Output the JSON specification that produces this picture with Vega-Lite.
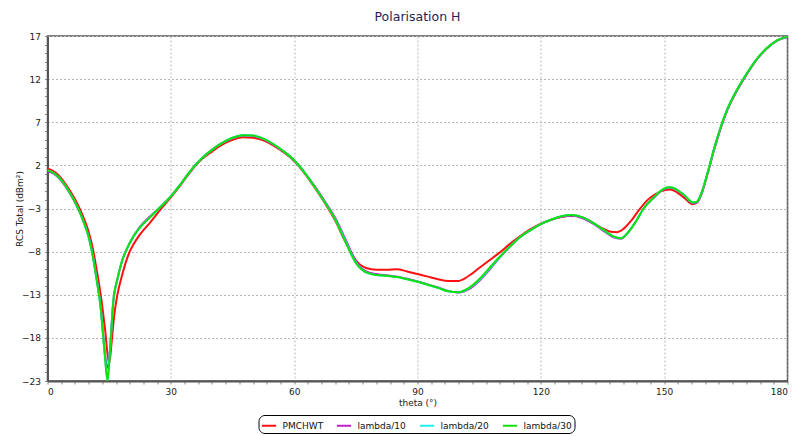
{
  "$schema": "https://vega.github.io/schema/vega-lite/v6.json",
  "width": 740,
  "height": 345,
  "autosize": {"type": "none"},
  "padding": {"left": 47.5, "top": 36, "right": 10.5, "bottom": 55},
  "background": "white",
  "title": {"text": "Polarisation H", "fontSize": 12.5, "font": "DejaVu Sans", "fontWeight": "normal", "color": "#1e1e5a", "anchor": "middle", "offset": 9},
  "config": {
    "view": {"stroke": "#555", "strokeWidth": 1.5},
    "font": "DejaVu Sans"
  },
  "datasets": {
    "curves": [
      {"s":"PMCHWT","t":0,"v":1.6},{"s":"PMCHWT","t":1,"v":1.45},{"s":"PMCHWT","t":2,"v":1.15},{"s":"PMCHWT","t":3,"v":0.7},{"s":"PMCHWT","t":4,"v":0.1},{"s":"PMCHWT","t":5,"v":-0.6},{"s":"PMCHWT","t":6,"v":-1.35},{"s":"PMCHWT","t":7,"v":-2.2},{"s":"PMCHWT","t":8,"v":-3.2},{"s":"PMCHWT","t":9,"v":-4.35},{"s":"PMCHWT","t":10,"v":-5.7},{"s":"PMCHWT","t":11,"v":-7.6},{"s":"PMCHWT","t":12,"v":-10.2},{"s":"PMCHWT","t":13,"v":-13.2},{"s":"PMCHWT","t":14,"v":-17},{"s":"PMCHWT","t":15,"v":-21},{"s":"PMCHWT","t":15.6,"v":-18.5},{"s":"PMCHWT","t":16.2,"v":-15.5},{"s":"PMCHWT","t":17,"v":-13},{"s":"PMCHWT","t":18,"v":-11},{"s":"PMCHWT","t":19,"v":-9.3},{"s":"PMCHWT","t":20,"v":-8.0},{"s":"PMCHWT","t":21,"v":-7.1},{"s":"PMCHWT","t":22.5,"v":-6.0},{"s":"PMCHWT","t":25,"v":-4.6},{"s":"PMCHWT","t":27.5,"v":-3.1},{"s":"PMCHWT","t":30,"v":-1.7},{"s":"PMCHWT","t":32.5,"v":-0.2},{"s":"PMCHWT","t":35,"v":1.4},{"s":"PMCHWT","t":37.5,"v":2.7},{"s":"PMCHWT","t":40,"v":3.6},{"s":"PMCHWT","t":42.5,"v":4.4},{"s":"PMCHWT","t":45,"v":4.95},{"s":"PMCHWT","t":47.5,"v":5.25},{"s":"PMCHWT","t":50,"v":5.2},{"s":"PMCHWT","t":52.5,"v":4.9},{"s":"PMCHWT","t":55,"v":4.3},{"s":"PMCHWT","t":57.5,"v":3.5},{"s":"PMCHWT","t":60,"v":2.5},{"s":"PMCHWT","t":62.5,"v":1.1},{"s":"PMCHWT","t":65,"v":-0.6},{"s":"PMCHWT","t":67.5,"v":-2.4},{"s":"PMCHWT","t":70,"v":-4.4},{"s":"PMCHWT","t":72.5,"v":-6.9},{"s":"PMCHWT","t":75,"v":-9.0},{"s":"PMCHWT","t":77.5,"v":-9.9},{"s":"PMCHWT","t":80,"v":-10.1},{"s":"PMCHWT","t":82.5,"v":-10.1},{"s":"PMCHWT","t":85,"v":-10.05},{"s":"PMCHWT","t":87.5,"v":-10.3},{"s":"PMCHWT","t":90,"v":-10.6},{"s":"PMCHWT","t":92.5,"v":-10.9},{"s":"PMCHWT","t":95,"v":-11.2},{"s":"PMCHWT","t":97.5,"v":-11.4},{"s":"PMCHWT","t":100,"v":-11.4},{"s":"PMCHWT","t":102.5,"v":-10.8},{"s":"PMCHWT","t":105,"v":-9.9},{"s":"PMCHWT","t":107.5,"v":-9.0},{"s":"PMCHWT","t":110,"v":-8.1},{"s":"PMCHWT","t":112.5,"v":-7.1},{"s":"PMCHWT","t":115,"v":-6.2},{"s":"PMCHWT","t":117.5,"v":-5.4},{"s":"PMCHWT","t":120,"v":-4.75},{"s":"PMCHWT","t":122.5,"v":-4.3},{"s":"PMCHWT","t":125,"v":-4.0},{"s":"PMCHWT","t":127.5,"v":-3.85},{"s":"PMCHWT","t":130,"v":-4.0},{"s":"PMCHWT","t":132.5,"v":-4.6},{"s":"PMCHWT","t":135,"v":-5.3},{"s":"PMCHWT","t":137,"v":-5.7},{"s":"PMCHWT","t":138.5,"v":-5.75},{"s":"PMCHWT","t":140,"v":-5.4},{"s":"PMCHWT","t":142,"v":-4.4},{"s":"PMCHWT","t":144,"v":-3.1},{"s":"PMCHWT","t":146,"v":-2.0},{"s":"PMCHWT","t":148,"v":-1.3},{"s":"PMCHWT","t":150,"v":-0.9},{"s":"PMCHWT","t":151.5,"v":-0.8},{"s":"PMCHWT","t":153,"v":-1.1},{"s":"PMCHWT","t":155,"v":-1.8},{"s":"PMCHWT","t":156.8,"v":-2.5},{"s":"PMCHWT","t":158,"v":-2.3},{"s":"PMCHWT","t":159,"v":-1.4},{"s":"PMCHWT","t":160,"v":0.1},{"s":"PMCHWT","t":161,"v":1.8},{"s":"PMCHWT","t":162,"v":3.6},{"s":"PMCHWT","t":163,"v":5.2},{"s":"PMCHWT","t":164,"v":6.7},{"s":"PMCHWT","t":165,"v":8.0},{"s":"PMCHWT","t":166,"v":9.1},{"s":"PMCHWT","t":167.5,"v":10.5},{"s":"PMCHWT","t":170,"v":12.5},{"s":"PMCHWT","t":172.5,"v":14.3},{"s":"PMCHWT","t":175,"v":15.6},{"s":"PMCHWT","t":177.5,"v":16.5},{"s":"PMCHWT","t":180,"v":16.9},

      {"s":"lambda/10","t":0,"v":1.3},{"s":"lambda/10","t":1,"v":1.15},{"s":"lambda/10","t":2,"v":0.85},{"s":"lambda/10","t":3,"v":0.4},{"s":"lambda/10","t":4,"v":-0.2},{"s":"lambda/10","t":5,"v":-0.9},{"s":"lambda/10","t":6,"v":-1.7},{"s":"lambda/10","t":7,"v":-2.6},{"s":"lambda/10","t":8,"v":-3.6},{"s":"lambda/10","t":9,"v":-4.8},{"s":"lambda/10","t":10,"v":-6.2},{"s":"lambda/10","t":11,"v":-8.4},{"s":"lambda/10","t":12,"v":-11.3},{"s":"lambda/10","t":13,"v":-14.7},{"s":"lambda/10","t":13.5,"v":-17.4},{"s":"lambda/10","t":14,"v":-19.9},{"s":"lambda/10","t":14.7,"v":-21.5},{"s":"lambda/10","t":15.2,"v":-19.3},{"s":"lambda/10","t":16,"v":-13.8},{"s":"lambda/10","t":17,"v":-11.2},{"s":"lambda/10","t":18,"v":-9.3},{"s":"lambda/10","t":20,"v":-7.0},{"s":"lambda/10","t":22.5,"v":-5.1},{"s":"lambda/10","t":25,"v":-3.9},{"s":"lambda/10","t":27.5,"v":-2.8},{"s":"lambda/10","t":30,"v":-1.6},{"s":"lambda/10","t":32.5,"v":-0.1},{"s":"lambda/10","t":35,"v":1.5},{"s":"lambda/10","t":37.5,"v":2.8},{"s":"lambda/10","t":40,"v":3.8},{"s":"lambda/10","t":42.5,"v":4.6},{"s":"lambda/10","t":45,"v":5.15},{"s":"lambda/10","t":47.5,"v":5.45},{"s":"lambda/10","t":50,"v":5.4},{"s":"lambda/10","t":52.5,"v":5.05},{"s":"lambda/10","t":55,"v":4.4},{"s":"lambda/10","t":57.5,"v":3.6},{"s":"lambda/10","t":60,"v":2.6},{"s":"lambda/10","t":62.5,"v":1.2},{"s":"lambda/10","t":65,"v":-0.4},{"s":"lambda/10","t":67.5,"v":-2.2},{"s":"lambda/10","t":70,"v":-4.1},{"s":"lambda/10","t":72.5,"v":-6.6},{"s":"lambda/10","t":75,"v":-9.1},{"s":"lambda/10","t":77.5,"v":-10.3},{"s":"lambda/10","t":80,"v":-10.6},{"s":"lambda/10","t":82.5,"v":-10.75},{"s":"lambda/10","t":85,"v":-10.9},{"s":"lambda/10","t":87.5,"v":-11.15},{"s":"lambda/10","t":90,"v":-11.45},{"s":"lambda/10","t":92.5,"v":-11.8},{"s":"lambda/10","t":95,"v":-12.15},{"s":"lambda/10","t":97.5,"v":-12.55},{"s":"lambda/10","t":100,"v":-12.75},{"s":"lambda/10","t":102.5,"v":-12.35},{"s":"lambda/10","t":105,"v":-11.4},{"s":"lambda/10","t":107.5,"v":-10.1},{"s":"lambda/10","t":110,"v":-8.7},{"s":"lambda/10","t":112.5,"v":-7.4},{"s":"lambda/10","t":115,"v":-6.3},{"s":"lambda/10","t":117.5,"v":-5.5},{"s":"lambda/10","t":120,"v":-4.8},{"s":"lambda/10","t":122.5,"v":-4.3},{"s":"lambda/10","t":125,"v":-3.95},{"s":"lambda/10","t":127.5,"v":-3.85},{"s":"lambda/10","t":130,"v":-4.1},{"s":"lambda/10","t":132.5,"v":-4.7},{"s":"lambda/10","t":135,"v":-5.5},{"s":"lambda/10","t":137.5,"v":-6.3},{"s":"lambda/10","t":139.5,"v":-6.5},{"s":"lambda/10","t":141,"v":-5.9},{"s":"lambda/10","t":143,"v":-4.6},{"s":"lambda/10","t":145,"v":-3.0},{"s":"lambda/10","t":147.5,"v":-1.75},{"s":"lambda/10","t":150,"v":-0.75},{"s":"lambda/10","t":151.5,"v":-0.6},{"s":"lambda/10","t":153,"v":-0.85},{"s":"lambda/10","t":155,"v":-1.55},{"s":"lambda/10","t":157,"v":-2.4},{"s":"lambda/10","t":158,"v":-2.3},{"s":"lambda/10","t":159,"v":-1.4},{"s":"lambda/10","t":160,"v":0.1},{"s":"lambda/10","t":161,"v":1.8},{"s":"lambda/10","t":162,"v":3.6},{"s":"lambda/10","t":163,"v":5.2},{"s":"lambda/10","t":164,"v":6.7},{"s":"lambda/10","t":165,"v":8.0},{"s":"lambda/10","t":166,"v":9.1},{"s":"lambda/10","t":167.5,"v":10.5},{"s":"lambda/10","t":170,"v":12.5},{"s":"lambda/10","t":172.5,"v":14.25},{"s":"lambda/10","t":175,"v":15.55},{"s":"lambda/10","t":177.5,"v":16.45},{"s":"lambda/10","t":180,"v":16.85},

      {"s":"lambda/20","t":0,"v":1.4},{"s":"lambda/20","t":1,"v":1.25},{"s":"lambda/20","t":2,"v":0.95},{"s":"lambda/20","t":3,"v":0.5},{"s":"lambda/20","t":4,"v":-0.1},{"s":"lambda/20","t":5,"v":-0.85},{"s":"lambda/20","t":6,"v":-1.65},{"s":"lambda/20","t":7,"v":-2.55},{"s":"lambda/20","t":8,"v":-3.6},{"s":"lambda/20","t":9,"v":-4.85},{"s":"lambda/20","t":10,"v":-6.3},{"s":"lambda/20","t":11,"v":-8.5},{"s":"lambda/20","t":12,"v":-11.4},{"s":"lambda/20","t":13,"v":-14.8},{"s":"lambda/20","t":13.5,"v":-17.6},{"s":"lambda/20","t":14,"v":-20.3},{"s":"lambda/20","t":14.6,"v":-22.8},{"s":"lambda/20","t":15.2,"v":-19.5},{"s":"lambda/20","t":16,"v":-13.8},{"s":"lambda/20","t":17,"v":-11.2},{"s":"lambda/20","t":18,"v":-9.3},{"s":"lambda/20","t":20,"v":-7.0},{"s":"lambda/20","t":22.5,"v":-5.2},{"s":"lambda/20","t":25,"v":-4.0},{"s":"lambda/20","t":27.5,"v":-2.8},{"s":"lambda/20","t":30,"v":-1.6},{"s":"lambda/20","t":32.5,"v":-0.1},{"s":"lambda/20","t":35,"v":1.5},{"s":"lambda/20","t":37.5,"v":2.8},{"s":"lambda/20","t":40,"v":3.8},{"s":"lambda/20","t":42.5,"v":4.6},{"s":"lambda/20","t":45,"v":5.2},{"s":"lambda/20","t":47.5,"v":5.5},{"s":"lambda/20","t":50,"v":5.45},{"s":"lambda/20","t":52.5,"v":5.1},{"s":"lambda/20","t":55,"v":4.45},{"s":"lambda/20","t":57.5,"v":3.6},{"s":"lambda/20","t":60,"v":2.6},{"s":"lambda/20","t":62.5,"v":1.2},{"s":"lambda/20","t":65,"v":-0.5},{"s":"lambda/20","t":67.5,"v":-2.3},{"s":"lambda/20","t":70,"v":-4.25},{"s":"lambda/20","t":72.5,"v":-6.8},{"s":"lambda/20","t":75,"v":-9.25},{"s":"lambda/20","t":77.5,"v":-10.4},{"s":"lambda/20","t":80,"v":-10.7},{"s":"lambda/20","t":82.5,"v":-10.8},{"s":"lambda/20","t":85,"v":-10.95},{"s":"lambda/20","t":87.5,"v":-11.2},{"s":"lambda/20","t":90,"v":-11.5},{"s":"lambda/20","t":92.5,"v":-11.85},{"s":"lambda/20","t":95,"v":-12.2},{"s":"lambda/20","t":97.5,"v":-12.6},{"s":"lambda/20","t":100,"v":-12.7},{"s":"lambda/20","t":102.5,"v":-12.25},{"s":"lambda/20","t":105,"v":-11.3},{"s":"lambda/20","t":107.5,"v":-10.0},{"s":"lambda/20","t":110,"v":-8.65},{"s":"lambda/20","t":112.5,"v":-7.4},{"s":"lambda/20","t":115,"v":-6.3},{"s":"lambda/20","t":117.5,"v":-5.5},{"s":"lambda/20","t":120,"v":-4.8},{"s":"lambda/20","t":122.5,"v":-4.3},{"s":"lambda/20","t":125,"v":-3.9},{"s":"lambda/20","t":127.5,"v":-3.75},{"s":"lambda/20","t":130,"v":-4.0},{"s":"lambda/20","t":132.5,"v":-4.6},{"s":"lambda/20","t":135,"v":-5.4},{"s":"lambda/20","t":137.5,"v":-6.2},{"s":"lambda/20","t":139.5,"v":-6.45},{"s":"lambda/20","t":141,"v":-5.9},{"s":"lambda/20","t":143,"v":-4.6},{"s":"lambda/20","t":145,"v":-3.0},{"s":"lambda/20","t":147.5,"v":-1.7},{"s":"lambda/20","t":150,"v":-0.7},{"s":"lambda/20","t":151.5,"v":-0.55},{"s":"lambda/20","t":153,"v":-0.8},{"s":"lambda/20","t":155,"v":-1.5},{"s":"lambda/20","t":157,"v":-2.3},{"s":"lambda/20","t":158,"v":-2.2},{"s":"lambda/20","t":159,"v":-1.3},{"s":"lambda/20","t":160,"v":0.2},{"s":"lambda/20","t":161,"v":1.9},{"s":"lambda/20","t":162,"v":3.7},{"s":"lambda/20","t":163,"v":5.3},{"s":"lambda/20","t":164,"v":6.8},{"s":"lambda/20","t":165,"v":8.1},{"s":"lambda/20","t":166,"v":9.2},{"s":"lambda/20","t":167.5,"v":10.6},{"s":"lambda/20","t":170,"v":12.6},{"s":"lambda/20","t":172.5,"v":14.3},{"s":"lambda/20","t":175,"v":15.6},{"s":"lambda/20","t":177.5,"v":16.5},{"s":"lambda/20","t":180,"v":16.9},

      {"s":"lambda/30","t":0,"v":1.4},{"s":"lambda/30","t":1,"v":1.25},{"s":"lambda/30","t":2,"v":0.95},{"s":"lambda/30","t":3,"v":0.5},{"s":"lambda/30","t":4,"v":-0.1},{"s":"lambda/30","t":5,"v":-0.85},{"s":"lambda/30","t":6,"v":-1.65},{"s":"lambda/30","t":7,"v":-2.55},{"s":"lambda/30","t":8,"v":-3.6},{"s":"lambda/30","t":9,"v":-4.85},{"s":"lambda/30","t":10,"v":-6.3},{"s":"lambda/30","t":11,"v":-8.5},{"s":"lambda/30","t":12,"v":-11.4},{"s":"lambda/30","t":13,"v":-14.8},{"s":"lambda/30","t":13.5,"v":-17.6},{"s":"lambda/30","t":14,"v":-20.3},{"s":"lambda/30","t":14.6,"v":-23},{"s":"lambda/30","t":15.2,"v":-19.5},{"s":"lambda/30","t":16,"v":-13.8},{"s":"lambda/30","t":17,"v":-11.2},{"s":"lambda/30","t":18,"v":-9.3},{"s":"lambda/30","t":20,"v":-7.0},{"s":"lambda/30","t":22.5,"v":-5.2},{"s":"lambda/30","t":25,"v":-4.0},{"s":"lambda/30","t":27.5,"v":-2.8},{"s":"lambda/30","t":30,"v":-1.6},{"s":"lambda/30","t":32.5,"v":-0.1},{"s":"lambda/30","t":35,"v":1.5},{"s":"lambda/30","t":37.5,"v":2.8},{"s":"lambda/30","t":40,"v":3.8},{"s":"lambda/30","t":42.5,"v":4.6},{"s":"lambda/30","t":45,"v":5.2},{"s":"lambda/30","t":47.5,"v":5.5},{"s":"lambda/30","t":50,"v":5.45},{"s":"lambda/30","t":52.5,"v":5.1},{"s":"lambda/30","t":55,"v":4.45},{"s":"lambda/30","t":57.5,"v":3.6},{"s":"lambda/30","t":60,"v":2.6},{"s":"lambda/30","t":62.5,"v":1.2},{"s":"lambda/30","t":65,"v":-0.5},{"s":"lambda/30","t":67.5,"v":-2.3},{"s":"lambda/30","t":70,"v":-4.3},{"s":"lambda/30","t":72.5,"v":-6.9},{"s":"lambda/30","t":75,"v":-9.3},{"s":"lambda/30","t":77.5,"v":-10.4},{"s":"lambda/30","t":80,"v":-10.7},{"s":"lambda/30","t":82.5,"v":-10.8},{"s":"lambda/30","t":85,"v":-10.95},{"s":"lambda/30","t":87.5,"v":-11.2},{"s":"lambda/30","t":90,"v":-11.5},{"s":"lambda/30","t":92.5,"v":-11.85},{"s":"lambda/30","t":95,"v":-12.2},{"s":"lambda/30","t":97.5,"v":-12.6},{"s":"lambda/30","t":100,"v":-12.7},{"s":"lambda/30","t":102.5,"v":-12.2},{"s":"lambda/30","t":105,"v":-11.2},{"s":"lambda/30","t":107.5,"v":-9.9},{"s":"lambda/30","t":110,"v":-8.6},{"s":"lambda/30","t":112.5,"v":-7.4},{"s":"lambda/30","t":115,"v":-6.3},{"s":"lambda/30","t":117.5,"v":-5.5},{"s":"lambda/30","t":120,"v":-4.8},{"s":"lambda/30","t":122.5,"v":-4.3},{"s":"lambda/30","t":125,"v":-3.9},{"s":"lambda/30","t":127.5,"v":-3.75},{"s":"lambda/30","t":130,"v":-4.0},{"s":"lambda/30","t":132.5,"v":-4.6},{"s":"lambda/30","t":135,"v":-5.4},{"s":"lambda/30","t":137.5,"v":-6.2},{"s":"lambda/30","t":139.5,"v":-6.45},{"s":"lambda/30","t":141,"v":-5.9},{"s":"lambda/30","t":143,"v":-4.6},{"s":"lambda/30","t":145,"v":-3.0},{"s":"lambda/30","t":147.5,"v":-1.7},{"s":"lambda/30","t":150,"v":-0.7},{"s":"lambda/30","t":151.5,"v":-0.55},{"s":"lambda/30","t":153,"v":-0.8},{"s":"lambda/30","t":155,"v":-1.5},{"s":"lambda/30","t":157,"v":-2.3},{"s":"lambda/30","t":158,"v":-2.2},{"s":"lambda/30","t":159,"v":-1.3},{"s":"lambda/30","t":160,"v":0.2},{"s":"lambda/30","t":161,"v":1.9},{"s":"lambda/30","t":162,"v":3.7},{"s":"lambda/30","t":163,"v":5.3},{"s":"lambda/30","t":164,"v":6.8},{"s":"lambda/30","t":165,"v":8.1},{"s":"lambda/30","t":166,"v":9.2},{"s":"lambda/30","t":167.5,"v":10.6},{"s":"lambda/30","t":170,"v":12.6},{"s":"lambda/30","t":172.5,"v":14.3},{"s":"lambda/30","t":175,"v":15.6},{"s":"lambda/30","t":177.5,"v":16.5},{"s":"lambda/30","t":180,"v":16.9}
    ]
  },
  "data": {"name": "curves"},
  "mark": {"type": "line", "strokeWidth": 2, "interpolate": "monotone", "clip": true},
  "encoding": {
    "x": {
      "field": "t", "type": "quantitative",
      "scale": {"domain": [0, 180], "nice": false, "zero": false},
      "axis": {
        "title": "theta (°)",
        "titleFontSize": 9, "titleFontWeight": "normal", "titleColor": "#222", "titlePadding": 2,
        "values": [0,3.3333,6.6667,10,13.3333,16.6667,20,23.3333,26.6667,30,33.3333,36.6667,40,43.3333,46.6667,50,53.3333,56.6667,60,63.3333,66.6667,70,73.3333,76.6667,80,83.3333,86.6667,90,93.3333,96.6667,100,103.3333,106.6667,110,113.3333,116.6667,120,123.3333,126.6667,130,133.3333,136.6667,140,143.3333,146.6667,150,153.3333,156.6667,160,163.3333,166.6667,170,173.3333,176.6667,180],
        "labelExpr": "datum.value % 30 === 0 ? datum.label : ''",
        "labelOverlap": false,
        "labelFontSize": 9, "labelColor": "#222", "labelPadding": 3,
        "tickSize": 3, "tickColor": "#888",
        "domainColor": "#555", "domainWidth": 2,
        "grid": true,
        "gridColor": "#b8b8b8", "gridDash": [2, 2],
        "gridOpacity": {"condition": {"test": "datum.value % 30 === 0", "value": 1}, "value": 0}
      }
    },
    "y": {
      "field": "v", "type": "quantitative",
      "scale": {"domain": [-23, 17], "nice": false, "zero": false},
      "axis": {
        "title": "RCS Total (dBm²)",
        "titleFontSize": 9, "titleFontWeight": "normal", "titleColor": "#222", "titlePadding": -3,
        "values": [-23,-22,-21,-20,-19,-18,-17,-16,-15,-14,-13,-12,-11,-10,-9,-8,-7,-6,-5,-4,-3,-2,-1,0,1,2,3,4,5,6,7,8,9,10,11,12,13,14,15,16,17],
        "labelExpr": "(datum.value + 23) % 5 === 0 ? datum.label : ''",
        "labelOverlap": false,
        "labelFontSize": 9, "labelColor": "#222", "labelPadding": 4,
        "tickSize": 3, "tickColor": "#888",
        "domainColor": "#555", "domainWidth": 2,
        "grid": true,
        "gridColor": "#b8b8b8", "gridDash": [2, 2],
        "gridOpacity": {"condition": {"test": "(datum.value + 23) % 5 === 0", "value": 1}, "value": 0}
      }
    },
    "color": {
      "field": "s", "type": "nominal",
      "scale": {"domain": ["PMCHWT", "lambda/10", "lambda/20", "lambda/30"], "range": ["#ff1010", "#c020d0", "#20f0f0", "#10e010"]},
      "legend": {
        "title": null,
        "orient": "none",
        "legendX": 211,
        "legendY": 379,
        "direction": "horizontal",
        "symbolType": "stroke",
        "symbolSize": 200,
        "symbolStrokeWidth": 2,
        "labelFontSize": 9,
        "labelColor": "#111",
        "labelOffset": 5,
        "columnPadding": 9,
        "strokeColor": "#000",
        "cornerRadius": 6,
        "padding": 2,
        "fillColor": "white"
      }
    },
    "order": {"field": "s"}
  }
}
